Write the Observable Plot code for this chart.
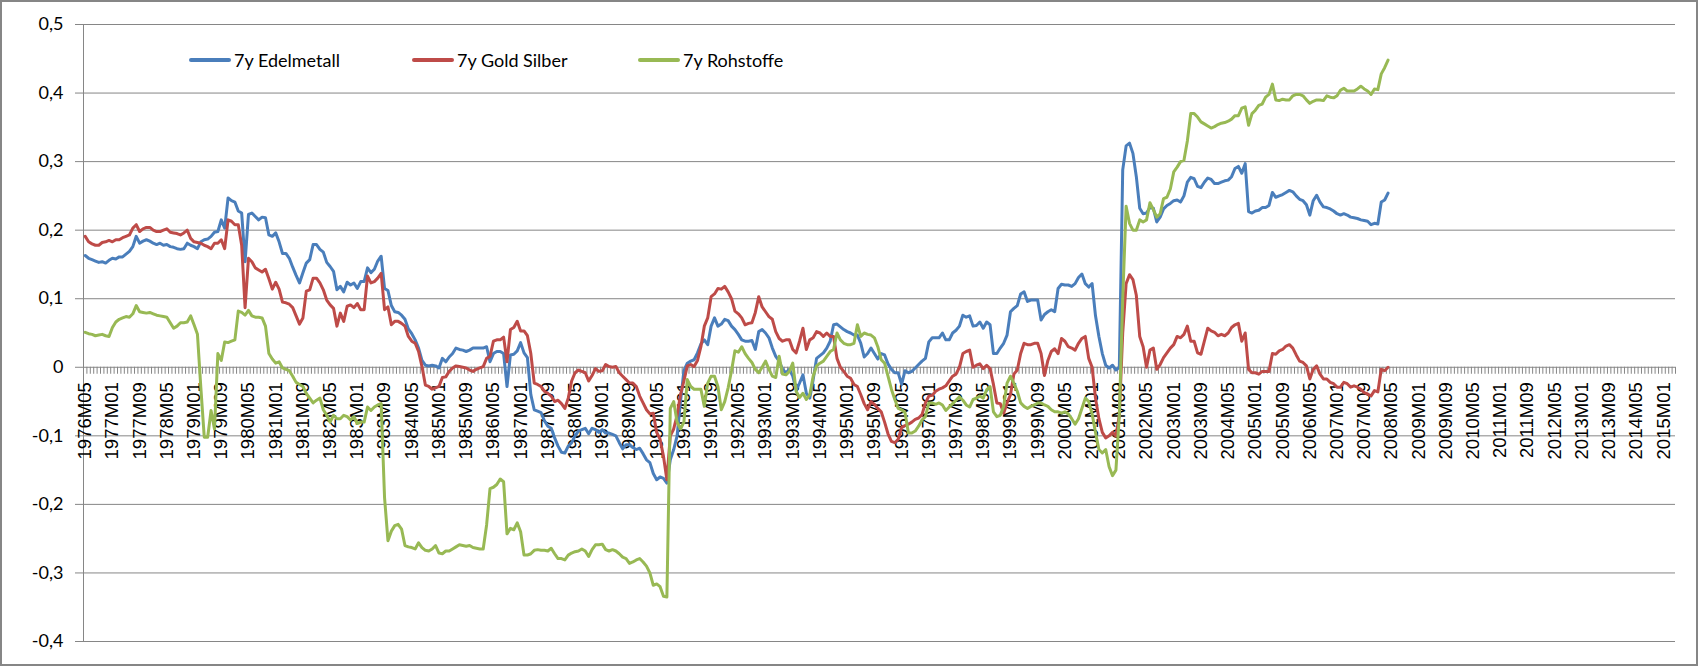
<!DOCTYPE html>
<html>
<head>
<meta charset="utf-8">
<script src="https://cdn.jsdelivr.net/npm/d3@7"></script>
<script src="https://cdn.jsdelivr.net/npm/@observablehq/plot@0.6"></script>
<style>
  html, body { margin: 0; padding: 0; background: #fff; }
  #wrap { position: relative; width: 1698px; height: 666px; overflow: hidden; }
  #border { position: absolute; left: 0; top: 0; width: 1698px; height: 666px; box-sizing: border-box; border: 2.5px solid #868686; pointer-events: none; }
  .leg { position: absolute; top: 49px; display: flex; align-items: center; font-family: Lato, "Open Sans", sans-serif; font-size: 18px; color: #000; white-space: nowrap; }
  .sw { display: inline-block; width: 42px; height: 4px; border-radius: 2px; margin-right: 3px; }
</style>
</head>
<body>
<div id="wrap"><div id="border"></div></div>
<script>
// ---- categories: monthly, 1976M05 .. 2015M04 ----
const startYear = 1976, startMonth = 5, nCategories = 468;
const categories = [];
for (let i = 0; i < nCategories; i++) {
  const k = startMonth - 1 + i;
  categories.push(`${startYear + Math.floor(k / 12)}M${String((k % 12) + 1).padStart(2, "0")}`);
}
// labelled categories: every 8th month
const tickLabels = categories.filter((_, i) => i % 8 === 0);

// ---- series (1976M05 .. 2008M04) ----
const seriesNames = ["7y Edelmetall", "7y Gold Silber", "7y Rohstoffe"];
const seriesColors = ["#4A7EBB", "#BE4B48", "#98B954"];

const edelmetall = [
 .163,.159,.157,.155,.153,.154,.152,.156,.159,.158,.161,.161,
 .165,.169,.176,.191,.181,.184,.186,.184,.181,.179,.181,.178,
 .179,.176,.175,.173,.172,.173,.181,.178,.176,.173,.183,.186,
 .187,.191,.197,.198,.215,.203,.247,.243,.241,.228,.225,.154,
 .223,.225,.220,.215,.219,.218,.193,.191,.196,.183,.166,.166,
 .159,.146,.134,.123,.138,.152,.157,.179,.179,.172,.168,.153,
 .147,.140,.113,.118,.110,.124,.120,.123,.115,.125,.125,.145,
 .138,.143,.155,.162,.115,.112,.090,.081,.080,.076,.070,.056,
 .049,.040,.028,.010,.003,.002,.003,.002,-.001,.013,.008,.015,
 .020,.028,.026,.025,.023,.025,.028,.028,.028,.028,.030,.008,
 .020,.023,.023,.020,-.028,.018,.019,.024,.036,.021,.014,-.040,
 -.062,-.064,-.066,-.078,-.086,-.089,-.103,-.115,-.124,-.125,-.115,-.110,
 -.100,-.093,-.091,-.089,-.097,-.089,-.091,-.095,-.091,-.096,-.096,-.098,
 -.100,-.110,-.119,-.113,-.113,-.117,-.120,-.118,-.126,-.135,-.139,-.155,
 -.164,-.160,-.162,-.169,-.135,-.120,-.100,-.050,-.005,.006,.009,.011,
 .021,.034,.040,.033,.060,.072,.060,.063,.070,.068,.060,.055,
 .048,.040,.038,.038,.039,.026,.052,.055,.050,.043,.028,.016,
 .009,-.003,-.008,-.003,-.013,-.033,-.023,-.011,-.038,-.045,-.018,.013,
 .017,.021,.028,.038,.062,.063,.059,.055,.052,.050,.047,.047,
 .035,.015,.020,.028,.020,.012,.020,.018,.005,-.003,-.008,-.008,
 -.025,-.005,-.008,-.006,-.001,.004,.009,.013,.037,.043,.043,.043,
 .050,.040,.040,.050,.054,.060,.076,.073,.075,.060,.061,.066,
 .057,.066,.062,.020,.020,.028,.035,.047,.081,.086,.090,.107,
 .110,.096,.098,.098,.098,.069,.077,.081,.084,.081,.115,.121,
 .120,.120,.118,.122,.131,.136,.122,.117,.122,.075,.045,.020,
 .003,-.001,.003,-.004,.000,.288,.323,.327,.312,.278,.232,.224,
 .225,.233,.232,.212,.219,.231,.236,.239,.243,.244,.241,.250,
 .270,.277,.275,.264,.262,.270,.276,.274,.268,.268,.270,.272,
 .273,.278,.290,.293,.283,.297,.227,.225,.228,.229,.233,.233,
 .236,.255,.248,.250,.252,.255,.258,.256,.250,.245,.243,.237,
 .222,.243,.251,.241,.234,.233,.231,.228,.224,.222,.224,.222,
 .219,.218,.217,.215,.214,.213,.208,.210,.209,.241,.244,.254
];

const goldSilber = [
 .191,.183,.180,.178,.178,.182,.183,.185,.183,.186,.186,.189,
 .191,.193,.203,.208,.198,.202,.204,.204,.200,.198,.198,.200,
 .202,.197,.196,.195,.193,.196,.200,.188,.183,.182,.181,.178,
 .176,.173,.181,.181,.186,.173,.215,.213,.208,.208,.178,.087,
 .159,.154,.145,.142,.139,.143,.129,.114,.124,.114,.095,.094,
 .092,.087,.075,.063,.072,.111,.113,.130,.130,.123,.113,.098,
 .091,.086,.060,.079,.067,.089,.091,.087,.093,.084,.084,.133,
 .123,.125,.130,.137,.084,.088,.062,.067,.067,.064,.060,.045,
 .038,.035,.023,.001,-.026,-.028,-.032,-.030,-.028,-.015,-.014,-.006,
 -.001,.002,.001,.000,-.001,-.004,-.006,-.003,-.001,.001,.013,.016,
 .038,.040,.040,.044,.008,.055,.058,.067,.053,.053,.046,.020,
 -.023,-.025,-.028,-.035,-.038,-.042,-.050,-.048,-.053,-.060,-.045,-.020,
 -.008,-.004,-.006,-.008,-.020,-.012,-.002,-.006,-.005,.004,.001,.000,
 .001,-.008,-.013,-.018,-.023,-.023,-.028,-.042,-.052,-.062,-.068,-.067,
 -.095,-.105,-.130,-.164,-.100,-.090,-.070,-.040,-.020,.002,.004,.001,
 .010,.030,.060,.072,.103,.107,.115,.114,.118,.110,.100,.082,
 .078,.072,.062,.064,.065,.080,.103,.088,.081,.074,.070,.052,
 .042,.038,.040,.040,.026,.021,.038,.057,.026,.040,.043,.052,
 .050,.045,.050,.045,.045,.013,.000,-.006,-.013,-.016,-.025,-.028,
 -.040,-.053,-.062,-.050,-.054,-.060,-.065,-.080,-.097,-.108,-.110,-.105,
 -.088,-.085,-.083,-.080,-.076,-.074,-.069,-.052,-.042,-.041,-.035,-.032,
 -.030,-.027,-.020,-.013,-.010,.000,.020,.023,.025,.000,.003,.005,
 -.002,.003,-.002,-.025,-.052,-.053,-.067,-.052,-.040,-.010,-.004,.020,
 .035,.033,.033,.035,.035,.020,-.012,.010,.023,.027,.020,.042,
 .038,.030,.028,.025,.035,.042,.045,.013,.000,-.045,-.075,-.095,
 -.103,-.100,-.095,-.100,-.070,.050,.122,.135,.128,.105,.045,.030,
 .000,.025,.028,-.003,.004,.014,.021,.028,.033,.045,.043,.048,
 .060,.038,.038,.021,.019,.038,.057,.053,.051,.046,.048,.046,
 .050,.058,.062,.064,.038,.050,-.003,-.008,-.008,-.010,-.006,-.006,
 -.006,.020,.019,.024,.026,.031,.033,.028,.018,.009,.007,.002,
 -.017,-.003,.002,-.010,-.017,-.017,-.022,-.024,-.029,-.029,-.022,-.024,
 -.029,-.027,-.029,-.032,-.037,-.039,-.042,-.034,-.036,-.003,-.005,.000
];

const rohstoffe = [
 .051,.049,.048,.046,.047,.048,.046,.045,.058,.066,.070,.072,
 .074,.073,.078,.090,.081,.080,.079,.080,.078,.076,.075,.074,
 .073,.065,.057,.060,.065,.065,.066,.075,.062,.048,-.030,-.102,
 -.102,-.063,-.090,.020,.010,.037,.036,.038,.040,.082,.080,.076,
 .083,.075,.073,.073,.072,.060,.020,.012,.006,.008,-.001,-.003,
 -.005,-.013,-.022,-.025,-.028,-.038,-.045,-.052,-.048,-.045,-.062,-.070,
 -.080,-.070,-.075,-.075,-.070,-.072,-.077,-.072,-.082,-.080,-.080,-.058,
 -.063,-.058,-.055,-.053,-.190,-.253,-.239,-.231,-.229,-.236,-.260,-.262,
 -.263,-.265,-.256,-.263,-.267,-.268,-.265,-.260,-.271,-.272,-.268,-.268,
 -.265,-.262,-.259,-.260,-.261,-.260,-.263,-.264,-.265,-.265,-.230,-.177,
 -.175,-.171,-.163,-.167,-.243,-.235,-.237,-.227,-.240,-.274,-.274,-.272,
 -.267,-.266,-.267,-.267,-.268,-.264,-.272,-.279,-.279,-.281,-.274,-.271,
 -.269,-.268,-.265,-.268,-.276,-.266,-.259,-.259,-.258,-.266,-.268,-.266,
 -.268,-.272,-.277,-.279,-.286,-.284,-.281,-.279,-.284,-.290,-.300,-.318,
 -.316,-.320,-.334,-.335,-.060,-.050,-.080,-.090,-.080,-.018,-.028,-.032,
 -.032,-.032,-.057,-.023,-.013,-.013,-.028,-.062,-.050,-.030,-.005,.024,
 .022,.030,.020,.013,.007,-.003,-.008,.000,.009,-.003,-.013,-.015,
 .016,-.010,-.011,-.006,.006,-.035,-.044,-.038,-.047,-.040,-.013,.002,
 .006,.009,.016,.023,.026,.050,.040,.035,.033,.033,.035,.062,
 .045,.050,.048,.047,.043,.030,.011,.006,-.013,-.032,-.047,-.060,
 -.062,-.066,-.096,-.096,-.093,-.086,-.077,-.072,-.052,-.052,-.054,-.052,
 -.055,-.063,-.058,-.053,-.048,-.043,-.048,-.055,-.058,-.047,-.045,-.042,
 -.045,-.033,-.028,-.065,-.072,-.070,-.057,-.023,-.013,-.023,-.035,-.052,
 -.057,-.060,-.057,-.055,-.052,-.052,-.055,-.057,-.062,-.065,-.065,-.067,
 -.065,-.068,-.075,-.083,-.075,-.060,-.045,-.050,-.068,-.095,-.120,-.125,
 -.120,-.145,-.158,-.150,-.070,.100,.235,.210,.200,.200,.215,.212,
 .215,.240,.230,.219,.224,.246,.248,.260,.285,.292,.300,.302,
 .330,.370,.370,.365,.358,.355,.352,.349,.351,.354,.356,.357,
 .359,.362,.367,.367,.378,.380,.353,.370,.375,.382,.384,.394,
 .398,.413,.390,.389,.391,.390,.390,.396,.398,.398,.396,.390,
 .385,.388,.390,.390,.389,.396,.394,.393,.396,.404,.407,.403,
 .403,.403,.406,.410,.406,.403,.398,.406,.405,.428,.437,.448
];

const yTicks = [-0.4, -0.3, -0.2, -0.1, 0, 0.1, 0.2, 0.3, 0.4, 0.5];

// ---- build long table ----
const seriesValues = [edelmetall, goldSilber, rohstoffe];
const rows = [];
seriesValues.forEach((vals, s) => vals.forEach((v, i) => rows.push({series: seriesNames[s], cat: categories[i], idx: i, value: v})));
const catIndex = new Map(categories.map((c, i) => [c, i]));
const tickIdx = tickLabels.map(c => catIndex.get(c));
const boundaries = d3.range(categories.length + 1);

const fmt = d => (d < 0 ? "-" : "") + d3.format(".1~f")(Math.abs(d)).replace(".", ",");
const grey = "#868686";

const chart = Plot.plot({
  width: 1698,
  height: 666,
  marginLeft: 83,
  marginRight: 23,
  marginTop: 24,
  marginBottom: 25,
  x: {type: "linear", domain: [0, categories.length], axis: null},
  y: {domain: [-0.4, 0.5]},
  color: {domain: seriesNames, range: seriesColors},
  style: {fontFamily: "Lato, 'Open Sans', sans-serif", fontSize: "18px", color: "#000", background: "transparent", overflow: "visible"},
  marks: [
    Plot.gridY(yTicks, {stroke: grey, strokeOpacity: 1, strokeWidth: 1}),
    Plot.axisY(yTicks, {tickSize: 8, tickPadding: 12, tickFormat: fmt, stroke: grey, fill: "#000", label: null, fontSize: 18}),
    Plot.ruleX([0], {stroke: grey, strokeWidth: 1}),
    Plot.ruleX(boundaries, {y1: 0, y2: 0, insetBottom: -7, stroke: grey, strokeWidth: 1}),
    Plot.text(tickIdx, {
      x: i => i + 0.5, y: 0, text: i => categories[i],
      rotate: -90, textAnchor: "end", lineAnchor: "middle", dy: 15,
      fontFamily: "'Liberation Sans', Arial, sans-serif", fontSize: 18.5, fill: "#000"
    }),
    Plot.line(rows, {x: d => d.idx + 0.5, y: "value", z: "series", stroke: "series", strokeWidth: 3, strokeLinejoin: "round", strokeLinecap: "round"})
  ]
});

const wrap = document.getElementById("wrap");
wrap.insertBefore(chart, wrap.firstChild);

// legend (inside plot area, top)
const legendLeft = [189, 412, 638];
seriesNames.forEach((name, s) => {
  const item = document.createElement("div");
  item.className = "leg";
  item.style.left = legendLeft[s] + "px";
  const sw = document.createElement("span");
  sw.className = "sw";
  sw.style.background = seriesColors[s];
  const t = document.createElement("span");
  t.textContent = name;
  item.appendChild(sw);
  item.appendChild(t);
  wrap.appendChild(item);
});
</script>
</body>
</html>
